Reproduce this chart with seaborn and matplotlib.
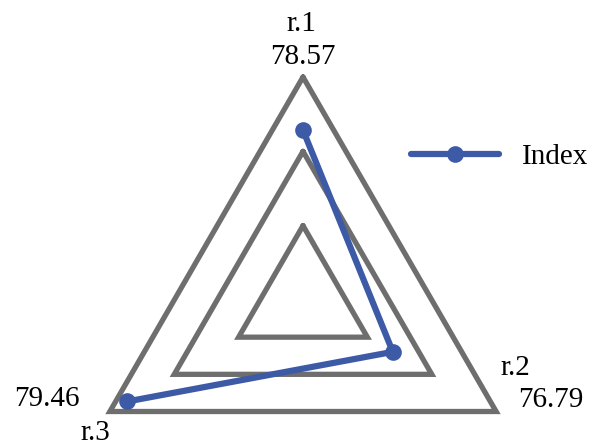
import numpy as np
import pandas as pd
import matplotlib
matplotlib.use("Agg")
import matplotlib.pyplot as plt
import seaborn as sns

# ---- data ----
axis_names = ["r.1", "r.2", "r.3"]
values = [78.57, 76.79, 79.46]
series_name = "Index"
r_min = 74.0
r_max = 80.0
grid_levels = [76.0, 78.0, 80.0]

sns.set_theme(style="white")
plt.rcParams["font.family"] = ["Liberation Serif", "DejaVu Serif"]
plt.rcParams["text.color"] = "black"

BLUE = "#3d5aa6"
GREY = "#6e6e6e"

W, H, DPI = 600, 446, 100
fig = plt.figure(figsize=(W / DPI, H / DPI), dpi=DPI)
ax = fig.add_axes([0, 0, 1, 1])

# pixel geometry of the radar (center and outer radius)
cx, cy, R = 303.0, 300.0, 223.0
ax.set_xlim(-cx / R, (W - cx) / R)
ax.set_ylim((cy - H) / R, cy / R)
ax.set_aspect("auto")
ax.axis("off")

n = len(axis_names)
angles = np.deg2rad(90 - 360.0 / n * np.arange(n))


def to_xy(vals):
    r = (np.asarray(vals, dtype=float) - r_min) / (r_max - r_min)
    return r * np.cos(angles), r * np.sin(angles)


# triangular grid
for lvl in grid_levels:
    gx, gy = to_xy([lvl] * n)
    ax.plot(np.append(gx, gx[0]), np.append(gy, gy[0]), color=GREY,
            lw=3.8, solid_joinstyle="miter", zorder=1)

# data polygon
dx, dy = to_xy(values)
df = pd.DataFrame({"x": np.append(dx, dx[0]), "y": np.append(dy, dy[0])})
sns.lineplot(data=df, x="x", y="y", sort=False, ax=ax, color=BLUE,
             lw=4.5, marker="o", markersize=12, markeredgewidth=0,
             label=series_name, zorder=3)
ax.set_xlabel("")
ax.set_ylabel("")


def px(xp, yp):
    return (xp - cx) / R, (cy - yp) / R


fs = 21
# axis name labels and value labels
name_pos = [(301, 24), (515, 368), (95, 433)]
value_pos = [(303, 57), (551, 400), (47, 399)]
for name, val, npos, vpos in zip(axis_names, values, name_pos, value_pos):
    ax.text(*px(*npos), name, fontsize=fs, ha="center", va="center", color="black")
    ax.text(*px(*vpos), f"{val:.2f}", fontsize=fs, ha="center", va="center", color="black")

leg = ax.legend(loc="center left", bbox_to_anchor=(411 / W, 1 - 157 / H),
                frameon=False, fontsize=fs, handlelength=3.0,
                handletextpad=0.8, borderpad=0, borderaxespad=0)
for t in leg.get_texts():
    t.set_color("black")

fig.savefig("out.png", dpi=DPI)
